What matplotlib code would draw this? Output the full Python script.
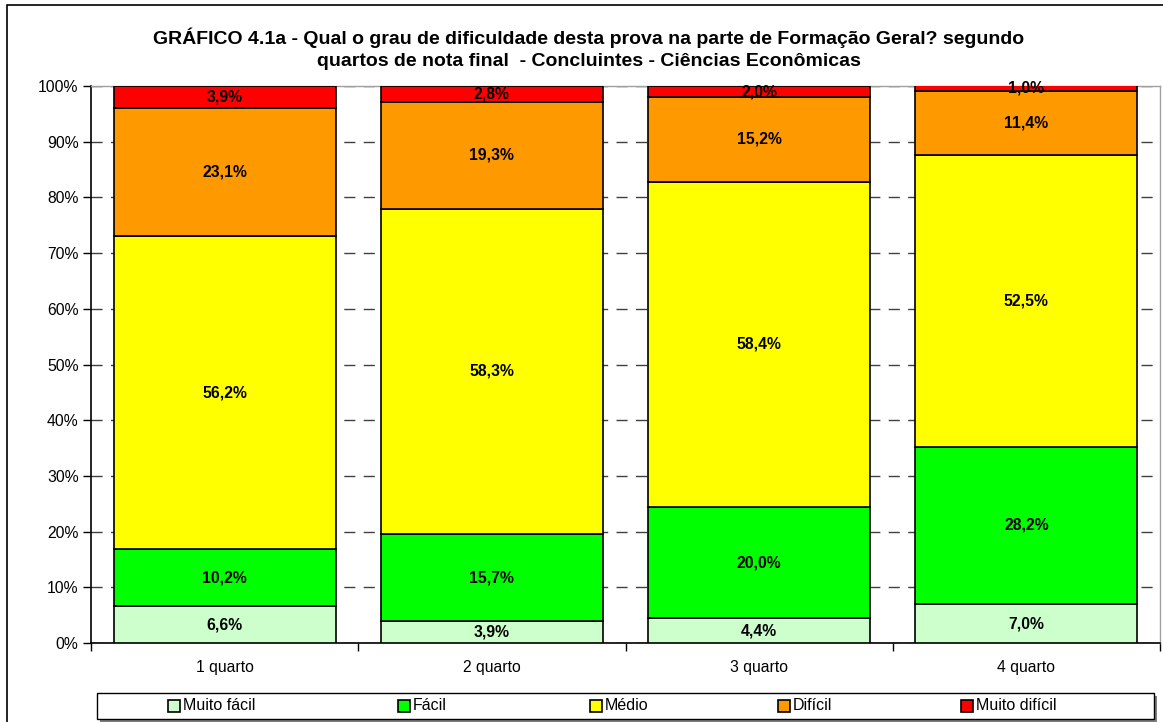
import matplotlib
matplotlib.use("Agg")
import matplotlib.pyplot as plt
from matplotlib.patches import Rectangle
import numpy as np

plt.rcParams['font.family'] = ['Liberation Sans', 'DejaVu Sans']

categories = ["1 quarto", "2 quarto", "3 quarto", "4 quarto"]
series_names = ["Muito fácil", "Fácil", "Médio", "Difícil", "Muito difícil"]
muito_facil = [6.6, 3.9, 4.4, 7.0]
facil = [10.2, 15.7, 20.0, 28.2]
medio = [56.2, 58.3, 58.4, 52.5]
dificil = [23.1, 19.3, 15.2, 11.4]
muito_dificil = [3.9, 2.8, 2.0, 1.0]
series = [muito_facil, facil, medio, dificil, muito_dificil]
colors = ["#CCFFCC", "#00FF00", "#FFFF00", "#FF9900", "#FF0000"]
yticks = [0, 10, 20, 30, 40, 50, 60, 70, 80, 90, 100]
ytick_labels = [f"{v}%" for v in yticks]

W, H = 1163, 722
fig = plt.figure(figsize=(W / 100, H / 100), dpi=100)

# figure border
fig.add_artist(Rectangle((7 / W, -0.01), (1200 - 7) / W, 1 - 5 / H + 0.01,
                         transform=fig.transFigure, fill=False,
                         edgecolor="black", lw=1.2))

left, right, top, bottom = 91, 1160, 86, 643
ax = fig.add_axes([left / W, 1 - bottom / H, (right - left) / W, (bottom - top) / H])

x = np.arange(len(categories))
bw = 0.83
base = np.zeros(len(categories))
for vals, col, name in zip(series, colors, series_names):
    vals = np.array(vals)
    ax.bar(x, vals, bw, bottom=base, color=col, edgecolor="black", lw=1.2,
           label=name, zorder=3)
    for xi, b, v in zip(x, base, vals):
        ax.text(xi, b + v / 2, f"{v:.1f}%".replace(".", ","), ha="center",
                va="center", fontsize=11.3, fontweight="bold", zorder=4)
    base = base + vals

ax.set_xlim(-0.5, len(categories) - 0.5)
ax.set_ylim(0, 100)
ax.set_yticks(yticks)
ax.set_yticklabels(ytick_labels, fontsize=11.3)
ax.set_xticks(x)
ax.set_xticklabels(categories, fontsize=11.3)
ax.tick_params(axis='x', length=0, pad=12)
ax.set_xticks(np.arange(-0.5, len(categories)), minor=True)
ax.tick_params(axis='x', which='minor', length=6, width=1, direction='out')
ax.tick_params(axis='y', length=6, width=1, direction='out', pad=3)
ax.yaxis.grid(True, linestyle=(0, (8, 6)), color="#404040", lw=1, zorder=0)
for sp in ["top", "right"]:
    ax.spines[sp].set_color("#A0A0A0")
    ax.spines[sp].set_linewidth(1)
for sp in ["left", "bottom"]:
    ax.spines[sp].set_color("black")
    ax.spines[sp].set_linewidth(1.2)

fig.text(589 / W, 1 - 38 / H,
         "GRÁFICO 4.1a - Qual o grau de dificuldade desta prova na parte de Formação Geral? segundo",
         ha="center", va="center", fontsize=14, fontweight="bold")
fig.text(589 / W, 1 - 61 / H,
         "quartos de nota final  - Concluintes - Ciências Econômicas",
         ha="center", va="center", fontsize=14, fontweight="bold")

# legend box with shadow
lx0, lx1, ly0, ly1 = 97, 1154, 693, 719
fig.add_artist(Rectangle(((lx0 + 3) / W, 1 - (ly1 + 3) / H), (lx1 - lx0) / W, (ly1 - ly0) / H,
                         transform=fig.transFigure, facecolor="#808080", edgecolor="none"))
fig.add_artist(Rectangle((lx0 / W, 1 - ly1 / H), (lx1 - lx0) / W, (ly1 - ly0) / H,
                         transform=fig.transFigure, facecolor="white", edgecolor="black", lw=1))
leg_x = [168, 398, 590, 778, 961]
ly = (ly0 + ly1) / 2
for lxp, col, name in zip(leg_x, colors, series_names):
    fig.add_artist(Rectangle((lxp / W, 1 - (ly + 6) / H), 12 / W, 12 / H,
                             transform=fig.transFigure, facecolor=col,
                             edgecolor="black", lw=1.2))
    fig.text((lxp + 15) / W, 1 - ly / H, name, ha="left", va="center", fontsize=11.5)

fig.savefig("out.png", dpi=100)
